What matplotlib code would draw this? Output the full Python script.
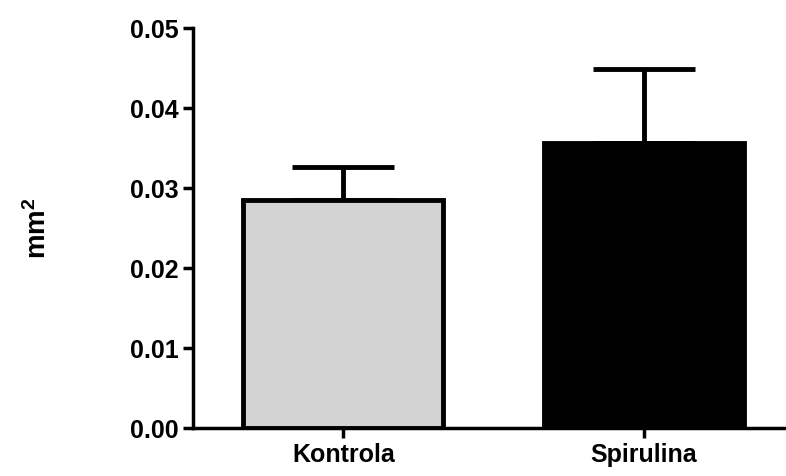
import numpy as np
import matplotlib
matplotlib.use("Agg")
import matplotlib.pyplot as plt

# values (mean, upper SEM)
groups = ["Kontrola", "Spirulina"]
means = [0.0285, 0.0356]
errors = [0.0041, 0.0093]
colors = ["#d3d3d3", "#000000"]
y_ticks = [0.00, 0.01, 0.02, 0.03, 0.04, 0.05]

plt.rcParams['font.family'] = ['Liberation Sans', 'DejaVu Sans']
plt.rcParams['mathtext.fontset'] = 'custom'
plt.rcParams['mathtext.bf'] = 'Liberation Sans:bold'
plt.rcParams['mathtext.rm'] = 'Liberation Sans'

fig = plt.figure(figsize=(7.86, 4.76), dpi=100)
ax = fig.add_axes([193 / 786, 48 / 476, 601 / 786, 400 / 476])

x = np.arange(len(groups))

# only the upper half of the error bar is drawn
ax.errorbar(x, means, yerr=[np.zeros(len(errors)), errors], fmt='none',
            ecolor='black', elinewidth=3.5, capsize=37, capthick=3.5, zorder=1)
ax.bar(x, means, width=0.665, color=colors, edgecolor='black',
       linewidth=3.5, zorder=2)

ax.set_xlim(-0.5, 1.5)
ax.set_ylim(0, 0.05)
ax.set_yticks(y_ticks)
ax.set_yticklabels(["%.2f" % v for v in y_ticks])
ax.set_xticks(x)
ax.set_xticklabels(groups)

for side in ['top', 'right']:
    ax.spines[side].set_visible(False)
for side in ['left', 'bottom']:
    ax.spines[side].set_linewidth(2.5)

ax.tick_params(axis='both', direction='out', length=7.5, width=2.5,
               labelsize=18)
ax.tick_params(axis='y', pad=3)
ax.tick_params(axis='x', pad=3)
for lab in ax.get_xticklabels() + ax.get_yticklabels():
    lab.set_fontweight('bold')

ax.set_ylabel(r'$\mathbf{mm^2}$', fontsize=20)
ax.yaxis.set_label_coords(-0.235, 0.5)

fig.savefig("out.png", dpi=100)
